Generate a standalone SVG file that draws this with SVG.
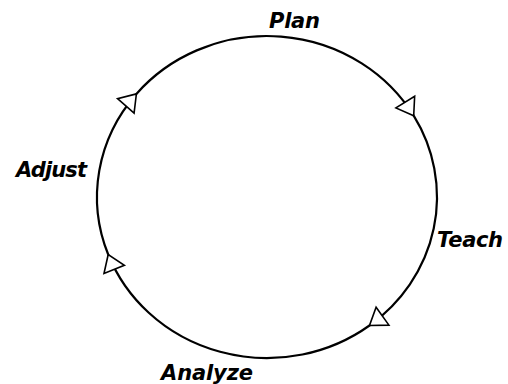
<svg xmlns="http://www.w3.org/2000/svg" width="508" height="384" viewBox="0 0 508 384">
<style>
.lbl{font-family:"DejaVu Sans","Liberation Sans",sans-serif;font-weight:bold;font-style:italic;font-size:21px;fill:#000}
.arc{fill:none;stroke:#000;stroke-width:2.2;marker-end:url(#tri)}
</style>
<defs>
<marker id="tri" markerUnits="userSpaceOnUse" viewBox="-20 -13 22 26" refX="0" refY="0" markerWidth="22" markerHeight="26" orient="auto" overflow="visible">
<path d="M0,0 L-16,-11 L-16,11 Z" fill="#fff" stroke="#000" stroke-width="1.6" stroke-linejoin="miter"/>
</marker>
</defs>
<rect width="508" height="384" fill="#fff"/>
<g id="connectors">
<path class="arc" d="M108.2,254.5 A170,161 0 0 1 136.4,93.9"/>
<path class="arc" d="M136.4,93.9 A170,161 0 0 1 413.7,115.7"/>
<path class="arc" d="M413.7,115.7 A170,161 0 0 1 369.5,325.5"/>
<path class="arc" d="M369.5,325.5 A170,161 0 0 1 108.2,254.5"/>
</g>
<g id="plan"><text class="lbl" x="269" y="28" textLength="51">Plan</text></g>
<g id="teach"><text class="lbl" x="437" y="247" textLength="66">Teach</text></g>
<g id="analyze"><text class="lbl" x="161" y="380" textLength="92">Analyze</text></g>
<g id="adjust"><text class="lbl" x="16" y="177" textLength="71">Adjust</text></g>
</svg>
